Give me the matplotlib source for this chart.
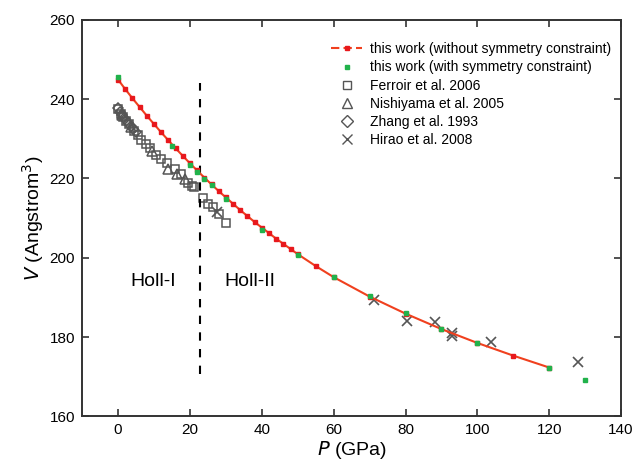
import matplotlib.pyplot as plt
from matplotlib.lines import Line2D
import numpy as np

plt.rcParams['font.family'] = ['Liberation Sans', 'DejaVu Sans']

# this work, without symmetry constraint (red line + squares)
p_red = [0, 2, 4, 6, 8, 10, 12, 14, 16, 18, 20, 22, 24, 26, 28, 30, 32, 34, 36, 38,
         40, 42, 44, 46, 48, 50, 55, 60, 70, 80, 90, 100, 110, 120]
v_red = [244.9, 242.5, 240.2, 238.0, 235.8, 233.7, 231.6, 229.6, 227.6, 225.7,
         223.8, 222.0, 220.2, 218.5, 216.8, 215.2, 213.6, 212.0, 210.5, 209.0,
         207.6, 206.2, 204.8, 203.5, 202.2, 200.9, 197.9, 195.1, 190.2, 185.9,
         182.0, 178.5, 175.3, 172.3]

# this work, with symmetry constraint (green)
p_green = [0, 15, 20, 22, 24, 26, 30, 40, 50, 60, 70, 80, 90, 100, 120, 130]
v_green = [245.7, 228.1, 223.3, 221.6, 219.9, 218.3, 214.9, 207.1, 200.6, 195.1,
           190.3, 186.0, 182.1, 178.5, 172.2, 169.2]

# Ferroir et al. 2006
p_ferroir = [0.0, 0.8, 1.5, 2.3, 3.0, 4.5, 5.5, 6.5, 7.8, 8.8, 10.5, 12.0, 13.5,
             15.8, 17.6, 19.5, 20.5, 21.2, 23.7, 25.0, 26.5, 28.0, 30.1]
v_ferroir = [237.5, 236.3, 235.5, 234.6, 233.8, 232.0, 231.0, 229.8, 228.6, 227.7,
             226.0, 224.8, 223.8, 222.5, 221.0, 218.8, 218.0, 217.8, 215.0, 213.5,
             212.8, 211.0, 208.8]

# Nishiyama et al. 2005
p_nishi = [1.0, 3.5, 9.5, 14.0, 16.5, 18.5]
v_nishi = [236.0, 233.0, 227.0, 222.3, 221.2, 219.8]

# Zhang et al. 1993
p_zhang = [0.0, 0.5, 1.2, 2.0, 2.8, 3.5, 4.2, 5.0]
v_zhang = [237.8, 236.8, 235.9, 234.9, 234.0, 233.2, 232.5, 231.6]

# Hirao et al. 2008
p_hirao = [27.5, 71.2, 80.3, 88.1, 92.9, 93.0, 103.7, 128.0]
v_hirao = [211.5, 189.3, 184.1, 183.8, 181.1, 180.3, 178.7, 173.6]

p_trans = 22.9
v_trans = [170.7, 244.0]

red = '#f0401e'
red_mk = '#e8181c'
green = '#21b24b'
grey = '#555555'

fig = plt.figure(figsize=(6.37, 4.72), dpi=100)
ax = fig.add_axes([0.129, 0.118, 0.846, 0.840])

ax.plot(p_red, v_red, '-', color=red, lw=1.5, zorder=3)
ax.plot(p_red, v_red, 's', color=red_mk, ms=3.2, mec=red_mk, zorder=4)
ax.plot(p_green, v_green, 's', color=green, ms=3.5, mec=green, ls='none', zorder=5)
ax.plot(p_ferroir, v_ferroir, 's', mfc='none', mec=grey, ms=6, mew=1.1, ls='none', zorder=2)
ax.plot(p_nishi, v_nishi, '^', mfc='none', mec=grey, ms=6.5, mew=1.1, ls='none', zorder=2)
ax.plot(p_zhang, v_zhang, 'D', mfc='none', mec=grey, ms=5.5, mew=1.1, ls='none', zorder=2)
ax.plot(p_hirao, v_hirao, 'x', color=grey, ms=7.5, mew=1.2, ls='none', zorder=2)

ax.plot([p_trans, p_trans], v_trans, '--', color='black', lw=1.5, dashes=(4, 4))

ax.text(9.7, 194, 'Holl-I', ha='center', va='center', fontsize=14)
ax.text(36.8, 194, 'Holl-II', ha='center', va='center', fontsize=14)

ax.set_xlim(-10, 140)
ax.set_ylim(160, 260)
ax.set_xticks(np.arange(0, 141, 20))
ax.set_yticks(np.arange(160, 261, 20))
ax.tick_params(direction='in', top=True, right=True, length=5, width=1.2,
               labelsize=11, color='#333333', pad=5)
for s in ax.spines.values():
    s.set_linewidth(1.4)
    s.set_color('#333333')

ax.set_xlabel(r'$\it{P}$ (GPa)', fontsize=14, labelpad=1)
ax.set_ylabel(r'$\it{V}$ (Angstrom$^3$)', fontsize=14, labelpad=3)

handles = [
    Line2D([], [], color=red, lw=1.5, dashes=(4, 2), marker='s', ms=3.2,
           mfc=red_mk, mec=red_mk),
    Line2D([], [], color=green, marker='s', ms=3.2, ls='none'),
    Line2D([], [], marker='s', mfc='none', mec=grey, ms=6, ls='none'),
    Line2D([], [], marker='^', mfc='none', mec=grey, ms=7, ls='none'),
    Line2D([], [], marker='D', mfc='none', mec=grey, ms=6, ls='none'),
    Line2D([], [], marker='x', color=grey, ms=7, ls='none'),
]
labels = ['this work (without symmetry constraint)',
          'this work (with symmetry constraint)',
          'Ferroir et al. 2006', 'Nishiyama et al. 2005',
          'Zhang et al. 1993', 'Hirao et al. 2008']
ax.legend(handles, labels, loc='upper right', frameon=False, fontsize=10,
          handlelength=2.2, handletextpad=0.6, labelspacing=0.3,
          bbox_to_anchor=(1.005, 0.975))

fig.savefig('out.png', dpi=100)
